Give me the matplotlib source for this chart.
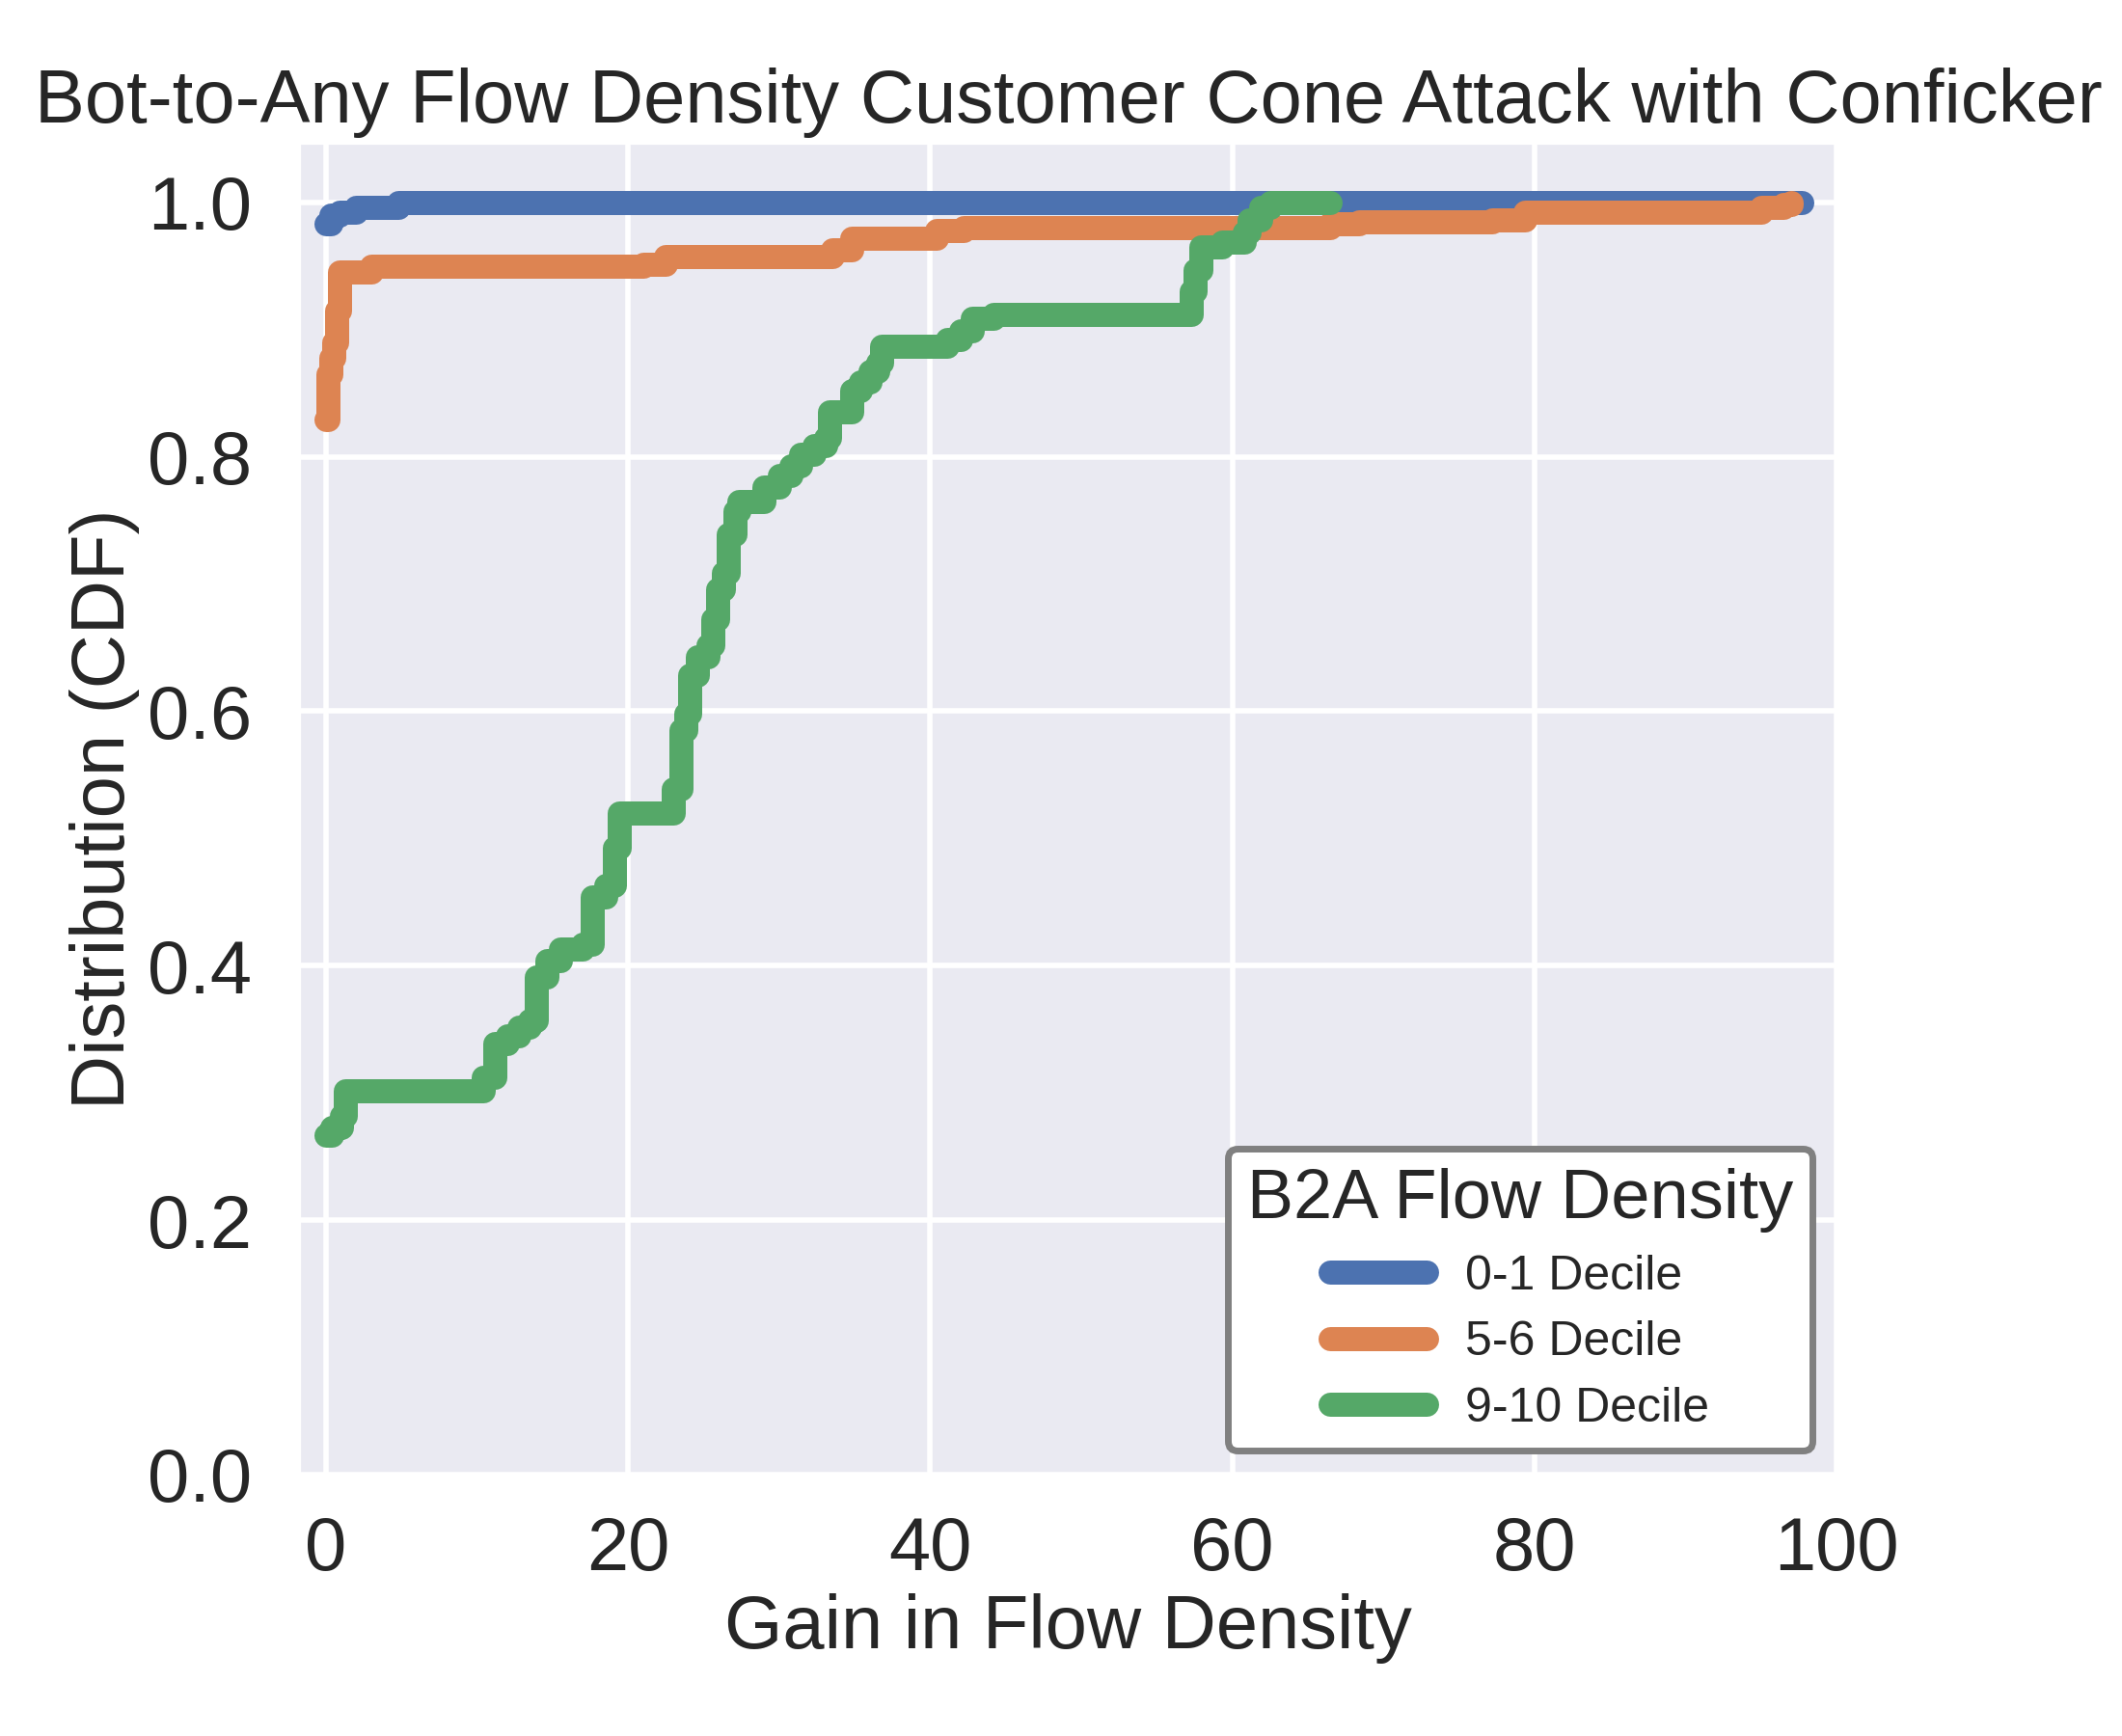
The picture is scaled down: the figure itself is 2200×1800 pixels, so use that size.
import matplotlib
matplotlib.use('Agg')
import matplotlib.pyplot as plt
import seaborn as sns

# values (step breakpoints, steps-post)
blue_x = [0.0, 0.3, 0.9, 2.0, 4.8, 97.7]
blue_y = [0.983, 0.990, 0.992, 0.996, 1.000, 1.000]

orange_x = [0.0, 0.1, 0.3, 0.5, 0.7, 0.9, 3.0, 21.0, 22.5, 33.5, 34.8, 40.4, 42.2,
            66.5, 68.4, 77.2, 79.4, 95.0, 96.5, 97.0]
orange_y = [0.829, 0.865, 0.878, 0.890, 0.915, 0.945, 0.950, 0.951, 0.957, 0.963, 0.972,
            0.978, 0.980, 0.983, 0.985, 0.986, 0.992, 0.996, 0.998, 1.000]

green_x = [0.0, 0.4, 1.0, 1.3, 10.4, 11.2, 12.0, 12.8, 13.5, 13.9, 14.6, 15.5, 17.0, 17.6,
           18.5, 19.1, 19.4, 23.0, 23.5, 23.8, 24.1, 24.6, 25.3, 25.6, 25.9, 26.3, 26.6,
           27.1, 27.3, 29.0, 30.0, 30.8, 31.4, 32.3, 33.1, 33.3, 34.8, 35.4, 36.0, 36.5,
           36.8, 41.1, 42.0, 42.8, 44.2, 57.3, 57.5, 57.9, 59.3, 60.8, 61.1, 61.9, 62.5, 66.5]
green_y = [0.267, 0.273, 0.282, 0.302, 0.312, 0.339, 0.345, 0.352, 0.357, 0.391, 0.404,
           0.413, 0.417, 0.454, 0.463, 0.493, 0.520, 0.539, 0.585, 0.598, 0.628, 0.643,
           0.652, 0.672, 0.696, 0.709, 0.739, 0.757, 0.765, 0.776, 0.785, 0.793, 0.802,
           0.809, 0.815, 0.835, 0.852, 0.859, 0.867, 0.874, 0.887, 0.892, 0.899, 0.909,
           0.912, 0.930, 0.947, 0.965, 0.969, 0.976, 0.986, 0.996, 1.000, 1.000]

labels = ['0-1 Decile', '5-6 Decile', '9-10 Decile']
colors = sns.color_palette('deep')[:3]

sns.set_style('darkgrid')
plt.rcParams['font.family'] = ['Liberation Sans', 'DejaVu Sans']
plt.rcParams['text.color'] = '#262626'
plt.rcParams['axes.labelcolor'] = '#262626'
plt.rcParams['xtick.color'] = '#262626'
plt.rcParams['ytick.color'] = '#262626'

fig = plt.figure(figsize=(11, 9), dpi=200)
ax = fig.add_axes([0.1414, 0.1506, 0.7241, 0.7666])

series = [(blue_x, blue_y), (orange_x, orange_y), (green_x, green_y)]
for (xs, ys), lab, c in zip(series, labels, colors):
    ax.plot(xs, ys, drawstyle='steps-post', lw=9, color=c, label=lab,
            solid_capstyle='round', solid_joinstyle='round')

ax.grid(True, color='white', lw=2)
ax.set_xlim(-1.72, 99.9)
ax.set_ylim(0, 1.046)
ax.set_xticks([0, 20, 40, 60, 80, 100])
ax.set_yticks([0.0, 0.2, 0.4, 0.6, 0.8, 1.0])
ax.tick_params(axis='x', length=0, pad=15, labelsize=28)
ax.tick_params(axis='y', length=0, pad=18, labelsize=28)

ax.set_xlabel('Gain in Flow Density', fontsize=28, labelpad=3)
ax.set_ylabel('Distribution (CDF)', fontsize=28, labelpad=3)
ax.set_title('Bot-to-Any Flow Density Customer Cone Attack with Conficker', fontsize=28, pad=8)

leg = ax.legend(title='B2A Flow Density', loc='lower right', fontsize=18,
                title_fontsize=26, frameon=True, fancybox=True, labelspacing=0.45)
leg.get_frame().set_edgecolor('0.5')
leg.get_frame().set_linewidth(2.5)
leg.get_frame().set_facecolor('white')
leg.get_frame().set_alpha(1)

plt.savefig('out.png', dpi=200)
